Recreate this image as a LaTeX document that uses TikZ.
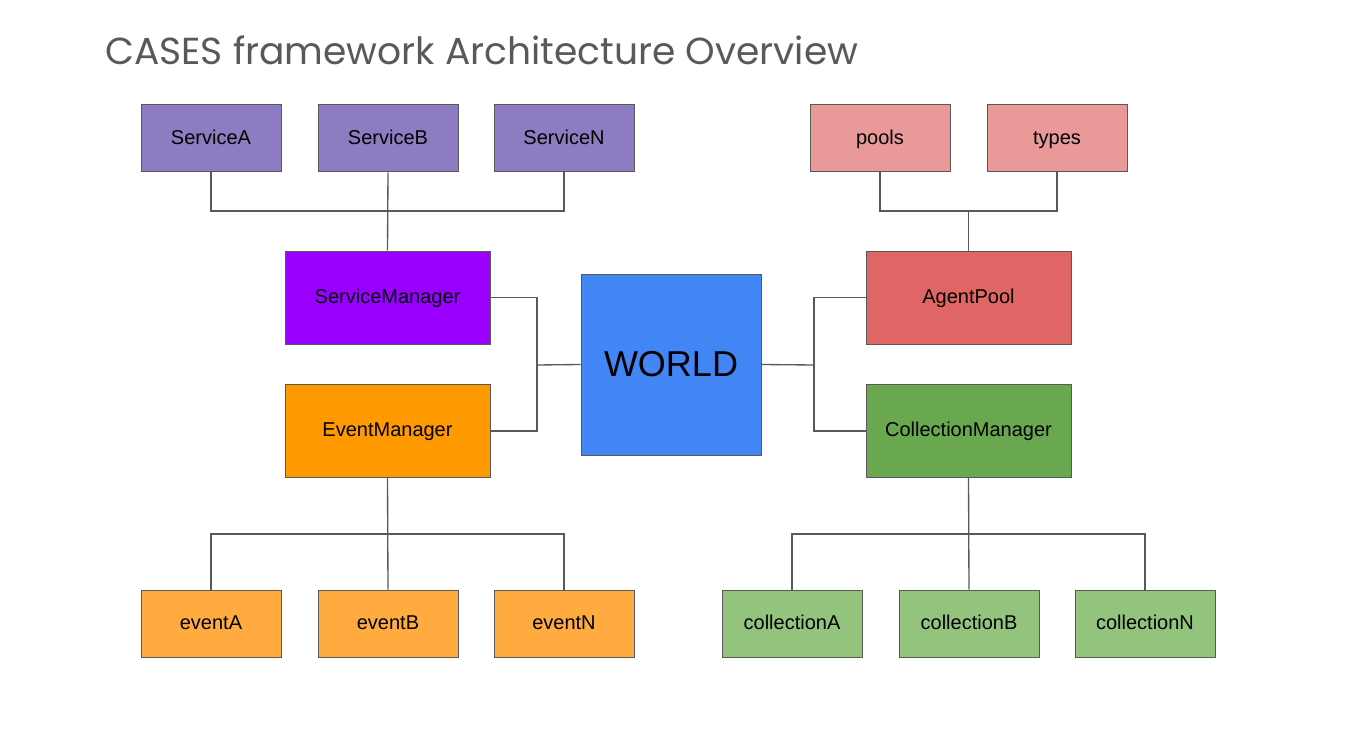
\documentclass[tikz,border=0pt]{standalone}
\usepackage{fontspec}
\setmainfont{Liberation Sans}
\newfontfamily\titlefont{Poppins}
\usepackage{tikz}
\usetikzlibrary{positioning}
\definecolor{svcbg}{HTML}{8E7CC3}
\definecolor{svcmgr}{HTML}{9900FF}
\definecolor{evtmgr}{HTML}{FF9900}
\definecolor{evtbg}{HTML}{FFAB40}
\definecolor{worldbg}{HTML}{4285F4}
\definecolor{agentmgr}{HTML}{E06666}
\definecolor{agentbg}{HTML}{EA9999}
\definecolor{collmgr}{HTML}{6AA84F}
\definecolor{collbg}{HTML}{93C47D}
\definecolor{edge}{HTML}{595959}
\definecolor{titlefg}{HTML}{595959}
\tikzstyle{leaf} = [rectangle, draw=edge, line width=0.75pt,
  font=\fontsize{15}{18}\selectfont, text=black,
  text height=10.5pt, text depth=2pt,
  minimum width=105pt, minimum height=50.25pt, inner sep=0pt]
\tikzstyle{manager} = [leaf, minimum width=153.75pt, minimum height=69.75pt]
\tikzstyle{core} = [leaf, minimum width=135pt, minimum height=135.75pt,
  font=\fontsize{27}{32}\selectfont, text height=19pt, text depth=1.2pt]
\tikzstyle{link} = [draw=edge, line width=1pt]

\begin{document}
\begin{tikzpicture}[x=0.75pt, y=-0.75pt]

  \useasboundingbox (0,0) rectangle (1353,756);

  \node[anchor=base west, text=titlefg, inner sep=0pt,
    font=\titlefont\fontsize{28.2}{33}\selectfont] (title) at (105,65)
    {CASES framework Architecture Overview};

  % services
  \node[leaf, fill=svcbg] (sa) at (211,138.5) {ServiceA};
  \node[leaf, fill=svcbg] (sb) at (388,138.5) {ServiceB};
  \node[leaf, fill=svcbg] (sn) at (564,138.5) {ServiceN};

  % agent pool parts
  \node[leaf, fill=agentbg] (pools) at (880,138.5) {pools};
  \node[leaf, fill=agentbg] (types) at (1057,138.5) {types};

  % managers
  \node[manager, fill=svcmgr] (sm) at (387.5,297.5) {ServiceManager};
  \node[manager, fill=evtmgr] (em) at (387.5,431) {EventManager};
  \node[manager, fill=agentmgr] (ap) at (968.5,297.5) {AgentPool};
  \node[manager, fill=collmgr] (cm) at (968.5,431) {CollectionManager};

  \node[core, fill=worldbg] (world) at (671,364.5) {WORLD};

  % events
  \node[leaf, fill=evtbg] (ea) at (211,623.5) {eventA};
  \node[leaf, fill=evtbg] (eb) at (388,623.5) {eventB};
  \node[leaf, fill=evtbg] (en) at (564,623.5) {eventN};

  % collections
  \node[leaf, fill=collbg] (ca) at (792,623.5) {collectionA};
  \node[leaf, fill=collbg] (cb) at (969,623.5) {collectionB};
  \node[leaf, fill=collbg] (cn) at (1145,623.5) {collectionN};

  % junction points
  \coordinate (sbus) at (387.5,211);
  \coordinate (pbus) at (968.5,211);
  \coordinate (ebus) at (387.5,534);
  \coordinate (cbus) at (968.5,534);
  \coordinate (ljoin) at (537,365);
  \coordinate (rjoin) at (814,365);

  % upper trees
  \draw[link] (sa.south) |- (sbus);
  \draw[link] (sn.south) |- (sbus);
  \draw[link] (sb.south) -- (sm.north);
  \draw[link] (pools.south) |- (pbus);
  \draw[link] (types.south) |- (pbus);
  \draw[link] (pbus) -- (ap.north);

  % managers to world
  \draw[link] (sm.east) -| (ljoin) |- (em.east);
  \draw[link] (ljoin) -- (world.west);
  \draw[link] (ap.west) -| (rjoin) |- (cm.west);
  \draw[link] (world.east) -- (rjoin);

  % lower trees
  \draw[link] (em.south) -- (eb.north);
  \draw[link] (ea.north) |- (ebus);
  \draw[link] (en.north) |- (ebus);
  \draw[link] (cm.south) -- (cb.north);
  \draw[link] (ca.north) |- (cbus);
  \draw[link] (cn.north) |- (cbus);

\end{tikzpicture}
\end{document}
